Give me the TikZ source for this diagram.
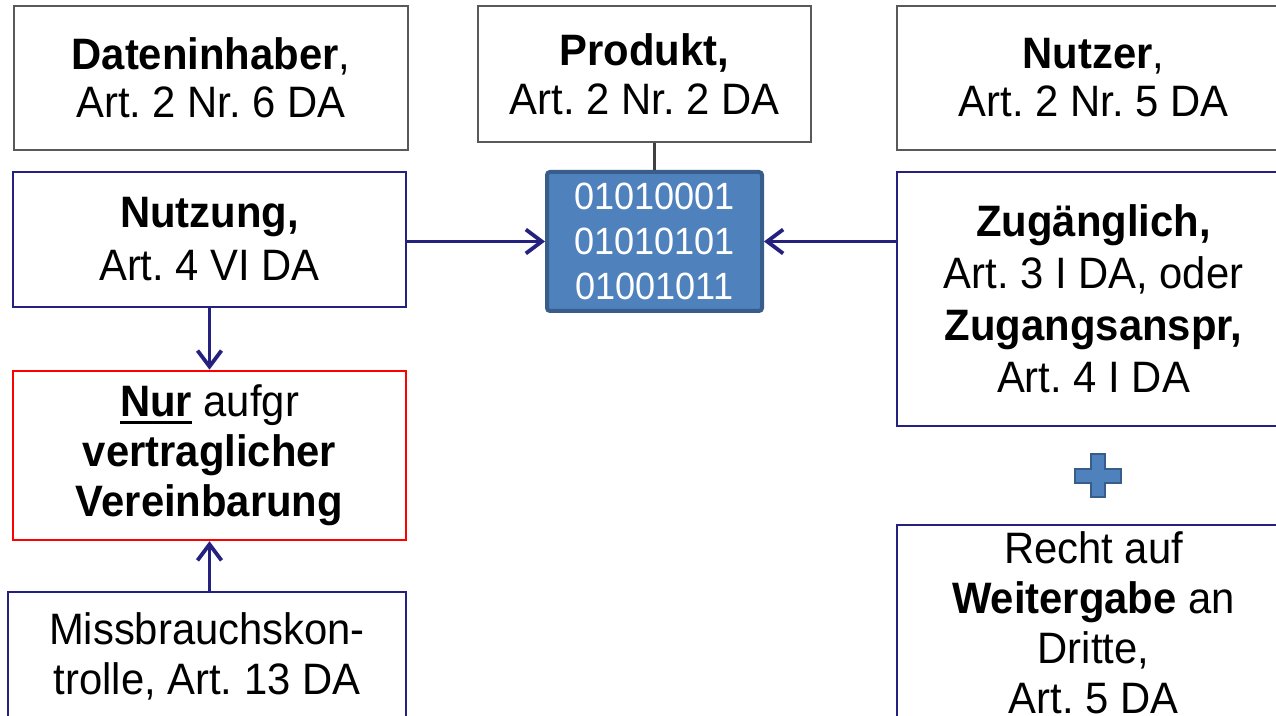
\documentclass[tikz,border=0pt]{standalone}
\usepackage{fontspec}
\setmainfont[FakeStretch=0.95]{Liberation Sans}
\usetikzlibrary{arrows.meta}

\definecolor{boxgray}{HTML}{595959}
\definecolor{linegray}{HTML}{404040}
\definecolor{navy}{HTML}{24217F}
\definecolor{datablue}{HTML}{4F81BD}
\definecolor{dataedge}{HTML}{385D8A}

\newcommand{\thickul}[1]{\vtop{\hbox{#1}\kern2pt\hrule height 1.6pt}}
\frenchspacing

\begin{document}
\begin{tikzpicture}[x=0.5pt,y=-0.5pt,>={Straight Barb[length=8pt,width=12pt]},
    inner sep=0pt,align=center,font=\fontsize{22}{25}\selectfont,
    party/.style={draw=boxgray,line width=1.25pt},
    rule/.style={draw=navy,line width=1.25pt},
    limit/.style={draw=red,line width=1.25pt},
    data/.style={draw=dataedge,fill=datablue,line width=2pt,rounded corners=1.5pt,
        text=white,font=\fontsize{19}{22.5}\selectfont},
    flow/.style={->,draw=navy,line width=1.9pt}]

    \useasboundingbox (0,0) rectangle (1276,716);
    \clip (0,0) rectangle (1276,716);

    % top row
    \node[party,minimum width=197pt,minimum height=72pt,font=\fontsize{22}{24}\selectfont]
        (owner) at (211,78) {\textbf{Dateninhaber},\\Art. 2 Nr. 6 DA};
    \node[party,minimum width=166.5pt,minimum height=68pt,font=\fontsize{22}{24.5}\selectfont]
        (prod) at (644.5,74) {\textbf{Produkt,}\\Art. 2 Nr. 2 DA};
    \node[party,minimum width=196.5pt,minimum height=72pt,font=\fontsize{22}{24}\selectfont]
        (user) at (1093.5,78) {\textbf{Nutzer},\\Art. 2 Nr. 5 DA};

    % data in the middle
    \node[data,minimum width=107.5pt,minimum height=69.5pt]
        (bits) at (654.5,241.5) {01010001\\01010101\\01001011};

    % left column
    \node[rule,minimum width=196.5pt,minimum height=67.5pt,font=\fontsize{22}{26.5}\selectfont]
        (use) at (209.5,239.5) {\textbf{Nutzung,}\\Art. 4 VI DA};
    \node[limit,minimum width=196.5pt,minimum height=84.5pt]
        (only) at (209.5,455.5) {\thickul{\textbf{Nur}} aufgr\\\textbf{vertraglicher}\\\textbf{Vereinbarung}};
    \node[rule,minimum width=199pt,minimum height=64pt]
        (abuse) at (207,656) {Missbrauchskon-\\trolle, Art. 13 DA};

    % right column
    \node[rule,minimum width=196.5pt,minimum height=127pt,font=\fontsize{22}{26}\selectfont]
        (access) at (1093.5,299) {\textbf{Zugänglich,}\\Art. 3 I DA, oder\\\textbf{Zugangsanspr,}\\Art. 4 I DA};
    \node[rule,minimum width=196.5pt,minimum height=98pt]
        (share) at (1093.5,623) {Recht auf\\\textbf{Weitergabe} an\\Dritte,\\Art. 5 DA};

    % plus sign
    \draw[draw=dataedge,fill=datablue,line width=1pt]
        (1091,454) -- (1105,454) -- (1105,469) -- (1121,469) -- (1121,483)
        -- (1105,483) -- (1105,497) -- (1091,497) -- (1091,483) -- (1075,483)
        -- (1075,469) -- (1091,469) -- cycle;

    \draw[linegray,line width=1.7pt] (bits.north) -- (bits.north |- prod.south);

    \path
        (use.east |- bits.west) edge[flow] (bits.west)
        (access.west |- bits.east) edge[flow] (bits.east)
        (use.south) edge[flow] (only.north)
        (only.south |- abuse.north) edge[flow] (only.south);
\end{tikzpicture}
\end{document}
